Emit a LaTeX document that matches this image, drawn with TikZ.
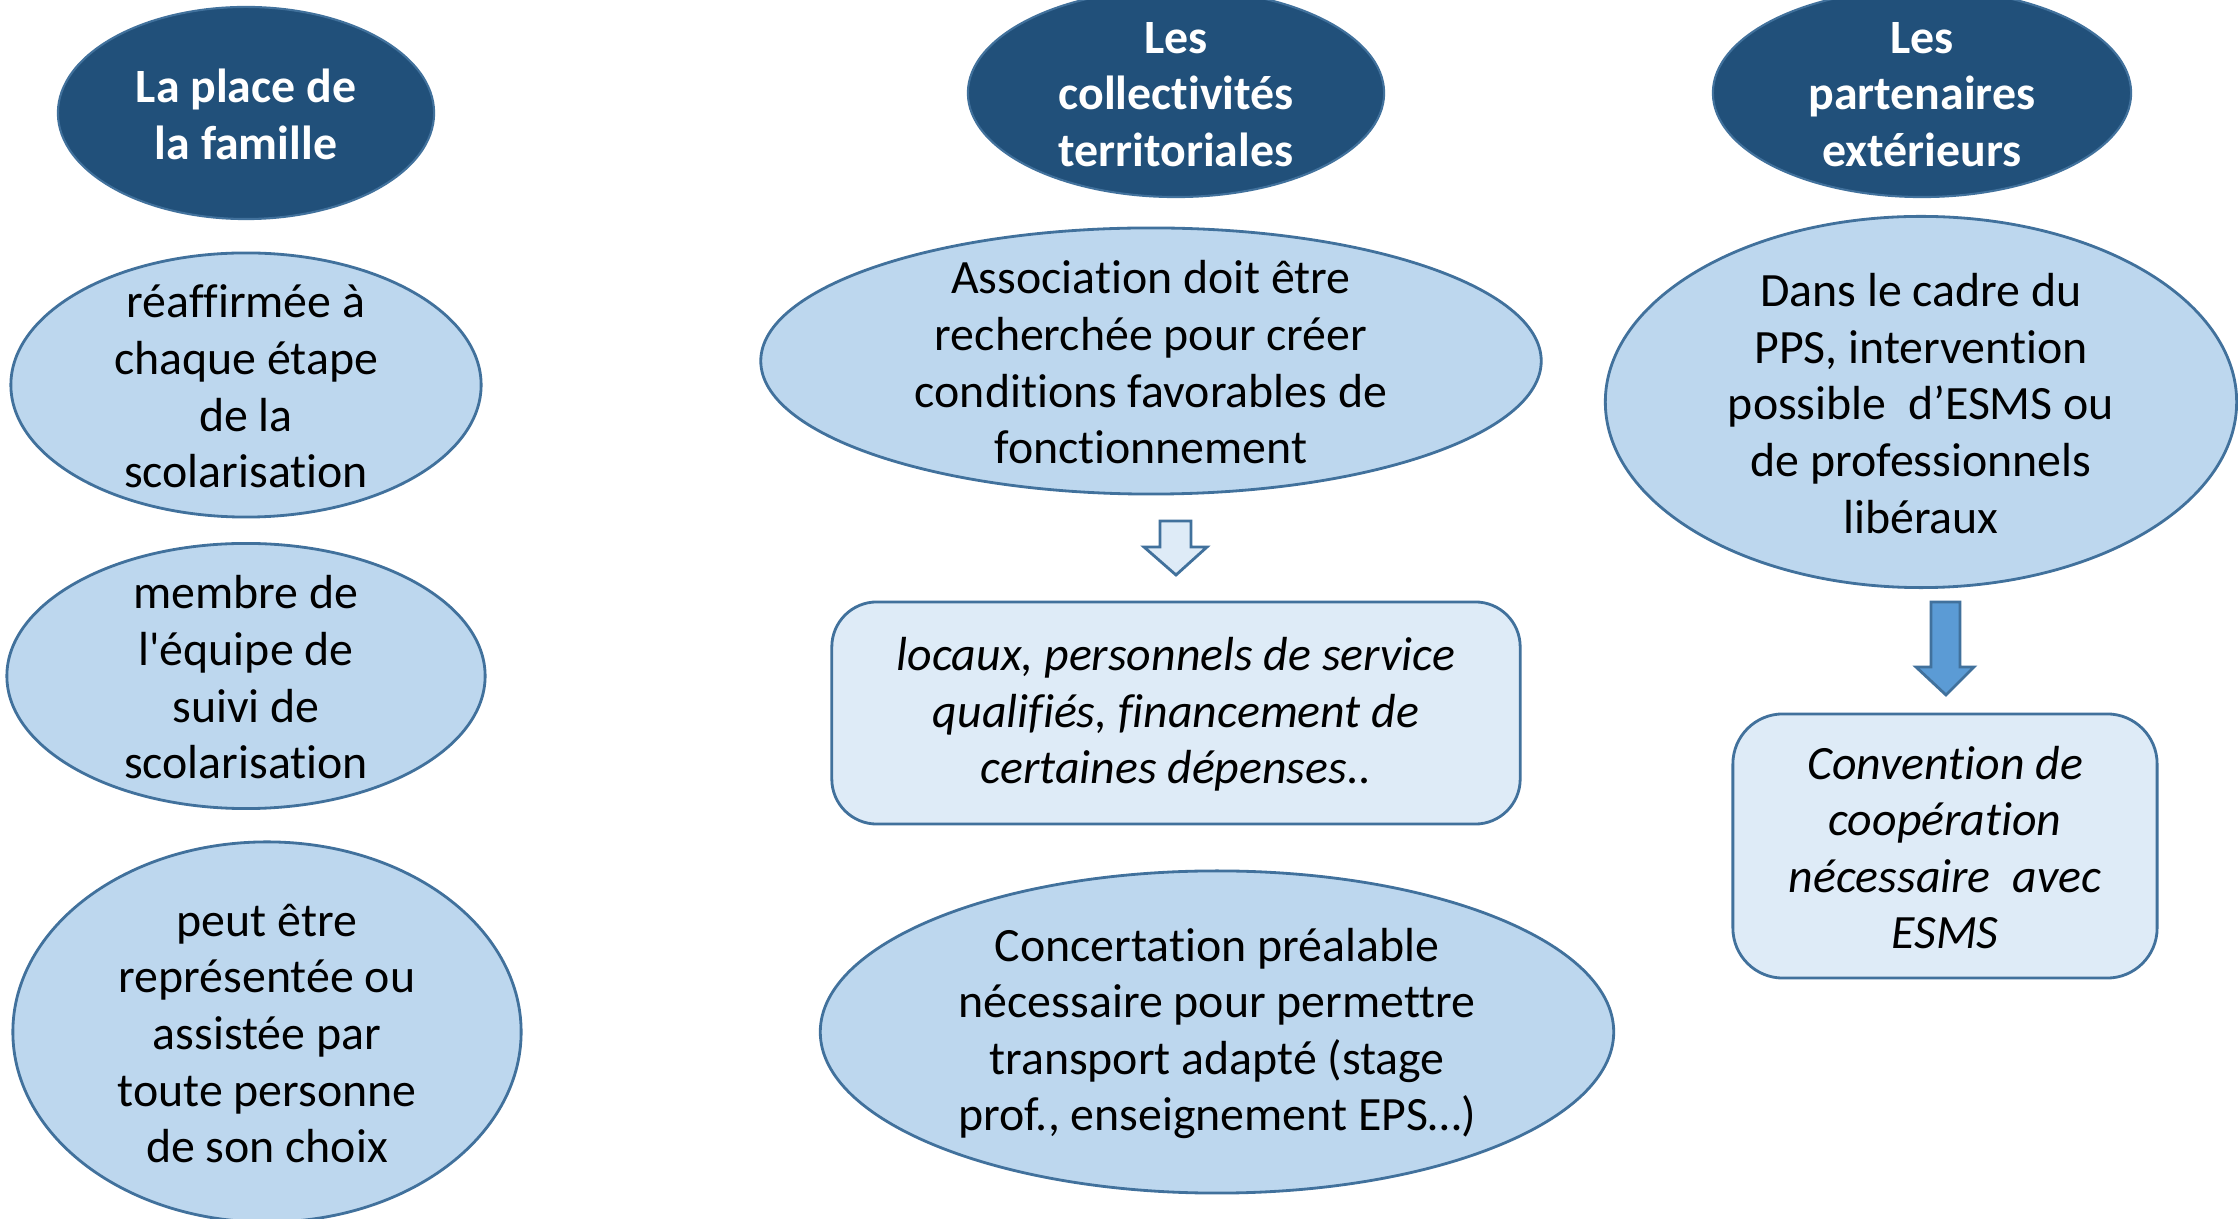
\documentclass[tikz,border=0pt]{standalone}
\usepackage{fontspec}
\setmainfont{Carlito}[Ligatures=NoCommon]
\usetikzlibrary{shapes.geometric}
\definecolor{hdrfill}{HTML}{21507A}
\definecolor{edge}{HTML}{41719C}
\definecolor{ellfill}{HTML}{BDD7EE}
\definecolor{boxfill}{HTML}{DEEBF7}
\definecolor{arrfill}{HTML}{5B9BD5}
\begin{document}
\begin{tikzpicture}[x=0.01cm,y=-0.01cm,
  txt/.style={font=\fontsize{13.6}{16.1}\selectfont, align=center, inner sep=0pt, yshift=-0.015cm},
  hdrtxt/.style={txt, text=white, font=\fontsize{13.6}{16.1}\selectfont\bfseries},
  ittxt/.style={txt, font=\fontsize{13.6}{16.1}\selectfont\itshape},
  hdr/.style={ellipse, inner sep=0pt, fill=hdrfill, draw=edge, line width=0.6pt},
  ell/.style={ellipse, inner sep=0pt, fill=ellfill, draw=edge, line width=0.8pt},
  rbox/.style={rectangle, inner sep=0pt, rounded corners=0.45cm, fill=boxfill, draw=edge, line width=0.8pt},
  blockarrow/.style={draw=edge, line width=0.8pt, line join=miter}
]
\clip (0,0) rectangle (2238,1219);
\fill[white] (0,0) rectangle (2238,1219);

% headers
\node[hdr, minimum width=3.76cm, minimum height=2.12cm] (h1) at (246,113) {};
\node[hdrtxt] (h1t) at (h1.center) {La place de\\la famille};
\node[hdr, minimum width=4.16cm, minimum height=2.08cm] (h2) at (1176,93) {};
\node[hdrtxt] (h2t) at (h2.center) {Les\\collectivités\\territoriales};
\node[hdr, minimum width=4.18cm, minimum height=2.08cm] (h3) at (1922,93) {};
\node[hdrtxt] (h3t) at (h3.center) {Les\\partenaires\\extérieurs};

% column 1
\node[ell, minimum width=4.70cm, minimum height=2.64cm] (e1) at (246,385) {};
\node[txt] (e1t) at (e1.center) {réaffirmée à\\chaque étape\\de la\\scolarisation};
\node[ell, minimum width=4.78cm, minimum height=2.65cm] (e2) at (246,676) {};
\node[txt] (e2t) at (e2.center) {membre de\\l\textquotesingle équipe de\\suivi de\\scolarisation};
\node[ell, minimum width=5.08cm, minimum height=3.80cm] (e3) at (267,1032) {};
\node[txt] (e3t) at (e3.center) {peut être\\représentée ou\\assistée par\\toute personne\\de son choix};

% column 2
\node[ell, minimum width=7.80cm, minimum height=2.66cm] (e4) at (1151,361) {};
\node[txt] (e4t) at (e4.center) {Association doit être\\recherchée pour créer\\conditions favorables de\\fonctionnement};
\node[rbox, minimum width=6.88cm, minimum height=2.22cm] (r1) at (1176,713) {};
\node[ittxt] (r1t) at (r1.center) {locaux, personnels de service\\qualifiés, financement de\\certaines dépenses..};
\node[ell, minimum width=7.93cm, minimum height=3.22cm] (e5) at (1217,1032) {};
\node[txt] (e5t) at (e5.center) {Concertation préalable\\nécessaire pour permettre\\transport adapté (stage\\prof., enseignement EPS…)};

% column 3
\node[ell, minimum width=6.31cm, minimum height=3.71cm] (e6) at (1921,402) {};
\node[txt] (e6t) at (e6.center) {Dans le cadre du\\PPS, intervention\\possible\ \ d’ESMS ou\\de professionnels\\libéraux};
\node[rbox, rounded corners=0.5cm, minimum width=4.24cm, minimum height=2.64cm] (r2) at (1945,846) {};
\node[ittxt] (r2t) at (r2.center) {Convention de\\coopération\\nécessaire\ \ avec\\ESMS};

% block arrows
\draw[blockarrow, fill=boxfill] (1160,521) -- (1191,521) -- (1191,547) -- (1207,547) -- (1176,575) -- (1144,547) -- (1160,547) -- cycle;
\draw[blockarrow, fill=arrfill] (1931,602) -- (1960,602) -- (1960,667) -- (1974,667) -- (1946,695) -- (1916,667) -- (1931,667) -- cycle;
\end{tikzpicture}
\end{document}
